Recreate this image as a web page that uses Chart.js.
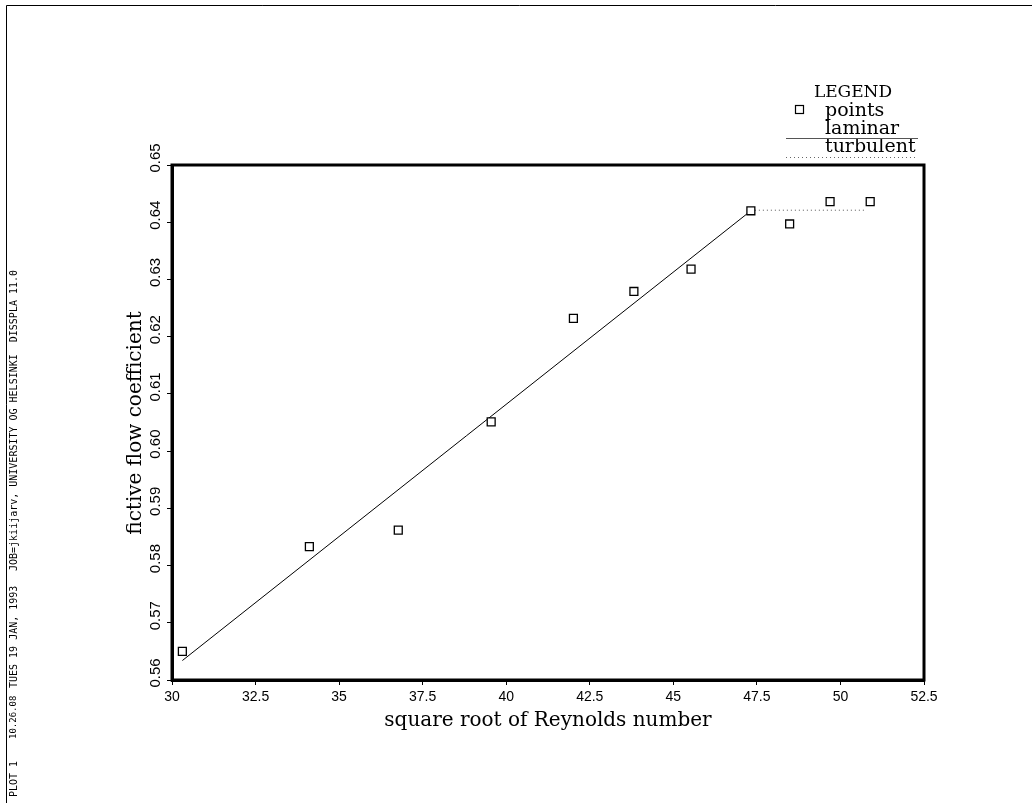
<!DOCTYPE html>
<html lang="en">
<head>
    <meta charset="UTF-8">
    <title>fictive flow coefficient</title>
    <script src="https://cdn.jsdelivr.net/npm/chart.js"></script>
    <style>
     body { margin: 0; background: #fff; }
     .wrap { width: 1032px; height: 803px; }
    </style>
</head>
<body>
    <div class="wrap">
        <canvas id="chart-flow" width="1032" height="803"></canvas>
    </div>

<script>
    // measured points
    const sqrtRe = [30.31, 34.11, 36.77, 39.55, 42.01, 43.82, 45.53, 47.32, 48.48, 49.69, 50.89];
    const coeff  = [0.5650, 0.5833, 0.5862, 0.6051, 0.6232, 0.6279, 0.6318, 0.6420, 0.6397, 0.6436, 0.6436];
    // fitted lines (end points)
    const laminarX = [30.31, 47.32];
    const laminarY = [0.5634, 0.6420];
    const turbX = [47.32, 50.78];
    const turbY = [0.6421, 0.6421];
    const yTicks = [0.56, 0.57, 0.58, 0.59, 0.60, 0.61, 0.62, 0.63, 0.64, 0.65];

    function toXY(xs, ys) {
        return xs.map((x, i) => ({ x: x, y: ys[i] }));
    }

    const serif = "'DejaVu Serif', 'Liberation Serif', serif";

    // frame, y labels, titles, legend, side stamp
    const extras = {
        id: 'extras',
        beforeDraw(chart) {
            const c = chart.ctx;
            c.save();
            c.fillStyle = '#fff';
            c.fillRect(0, 0, chart.width, chart.height);
            // page border
            c.strokeStyle = '#000';
            c.lineWidth = 1;
            c.beginPath();
            c.moveTo(6.5, 803);
            c.lineTo(6.5, 5.5);
            c.lineTo(1032, 5.5);
            c.stroke();
            c.restore();
        },
        afterDraw(chart) {
            const c = chart.ctx;
            const a = chart.chartArea;
            const ys = chart.scales.y;
            c.save();
            // box
            c.strokeStyle = '#000';
            c.lineWidth = 3;
            c.strokeRect(a.left, a.top, a.right - a.left, a.bottom - a.top);

            // y tick labels, rotated
            c.fillStyle = '#000';
            c.font = "15px 'Liberation Sans', Arial, sans-serif";
            c.textAlign = 'center';
            c.textBaseline = 'middle';
            yTicks.forEach(v => {
                const py = ys.getPixelForValue(v);
                c.save();
                c.translate(156, py - 7);
                c.rotate(-Math.PI / 2);
                c.fillText(v.toFixed(2), 0, 0);
                c.restore();
            });

            // axis titles
            c.font = '20px ' + serif;
            c.fillText('square root of Reynolds number', 548, 721);
            c.save();
            c.translate(136, 423);
            c.rotate(-Math.PI / 2);
            c.fillText('fictive flow coefficient', 0, 0);
            c.restore();

            // legend
            c.textBaseline = 'alphabetic';
            c.font = '17px ' + serif;
            c.textAlign = 'center';
            c.fillText('LEGEND', 853, 97);
            c.font = '19px ' + serif;
            c.textAlign = 'left';
            c.fillText('points', 825, 116);
            c.fillText('laminar', 825, 134);
            c.fillText('turbulent', 825, 152);
            c.lineWidth = 1.2;
            c.strokeRect(795.5, 105.5, 8, 8);
            c.strokeStyle = '#555';
            c.lineWidth = 1.2;
            c.beginPath();
            c.moveTo(786, 138.5);
            c.lineTo(918, 138.5);
            c.stroke();
            c.setLineDash([1, 3]);
            c.strokeStyle = '#666';
            c.lineWidth = 1;
            c.beginPath();
            c.moveTo(786, 157.5);
            c.lineTo(918, 157.5);
            c.stroke();
            c.setLineDash([]);

            // side stamp
            c.fillStyle = '#000';
            c.textAlign = 'left';
            c.textBaseline = 'middle';
            const stamp = [
                ['PLOT 1', 797, 10],
                ['10.26.08', 739, 9],
                ['TUES 19 JAN, 1993', 688, 10],
                ['JOB=jkiijarv, UNIVERSITY OG HELSINKI  DISSPLA 11.0', 571, 10]
            ];
            stamp.forEach(s => {
                c.font = s[2] + "px 'DejaVu Sans Mono', monospace";
                c.save();
                c.translate(14, s[1]);
                c.rotate(-Math.PI / 2);
                c.fillText(s[0], 0, 0);
                c.restore();
            });
            c.restore();
        }
    };

    const ctx = document.getElementById('chart-flow').getContext('2d');
    window.flowChart = new Chart(ctx, {
        type: 'scatter',
        data: {
            datasets: [{
                label: 'points',
                data: toXY(sqrtRe, coeff),
                pointStyle: 'rect',
                pointRadius: 5.6,
                pointBorderWidth: 1.3,
                pointBorderColor: '#000',
                pointBackgroundColor: '#fff',
                showLine: false,
                order: 0
            }, {
                label: 'laminar',
                data: toXY(laminarX, laminarY),
                showLine: true,
                borderColor: '#000',
                borderWidth: 1,
                pointRadius: 0,
                fill: false,
                order: 1
            }, {
                label: 'turbulent',
                data: toXY(turbX, turbY),
                showLine: true,
                borderColor: '#555',
                borderWidth: 1,
                borderDash: [1, 3],
                pointRadius: 0,
                fill: false,
                order: 1
            }]
        },
        options: {
            responsive: false,
            animation: false,
            layout: { padding: { top: 165, right: 108, left: 0, bottom: 0 } },
            plugins: {
                legend: { display: false },
                tooltip: { enabled: false }
            },
            scales: {
                x: {
                    type: 'linear',
                    min: 30,
                    max: 52.5,
                    ticks: {
                        stepSize: 2.5,
                        color: '#000',
                        padding: 4,
                        maxRotation: 0,
                        font: { family: "'Liberation Sans', Arial, sans-serif", size: 14 }
                    },
                    grid: { drawOnChartArea: false, drawTicks: true, tickLength: 5, tickColor: '#000', tickWidth: 1 },
                    border: { display: true, color: '#000', width: 3 },
                    afterFit(scale) { scale.height = 803 - 680; }
                },
                y: {
                    type: 'linear',
                    min: 0.56,
                    max: 0.65,
                    ticks: {
                        stepSize: 0.01,
                        color: 'rgba(0,0,0,0)',
                        font: { size: 14 }
                    },
                    grid: { drawOnChartArea: false, drawTicks: true, tickLength: 5, tickColor: '#000', tickWidth: 1 },
                    border: { display: true, color: '#000', width: 3 },
                    afterFit(scale) { scale.width = 172; }
                }
            }
        },
        plugins: [extras]
    });
</script>
</body>
</html>
